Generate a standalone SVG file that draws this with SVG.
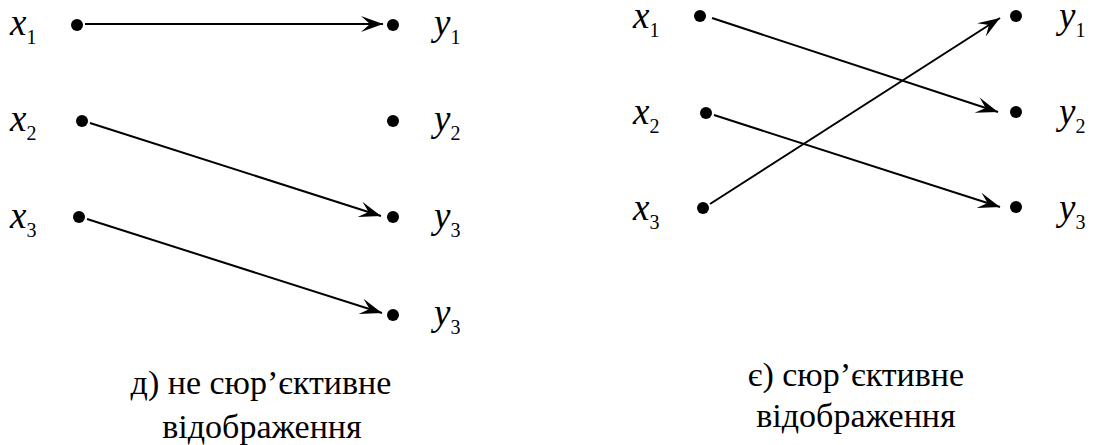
<svg xmlns="http://www.w3.org/2000/svg" width="1096" height="445" viewBox="0 0 1096 445">
<defs>
<marker id="a" viewBox="-24 -10 26 20" refX="0" refY="0" markerWidth="26" markerHeight="20" markerUnits="userSpaceOnUse" orient="auto">
<path d="M0,0 L-22,-8 L-13,0 L-22,8 Z" fill="#000"/>
</marker>
</defs>
<rect width="1096" height="445" fill="#fff"/>
<g id="connectors" stroke="#000" stroke-width="2" fill="none" marker-end="url(#a)">
<line x1="85" y1="24" x2="383" y2="24"/>
<line x1="90" y1="123" x2="381" y2="216"/>
<line x1="87" y1="219" x2="382" y2="313"/>
<line x1="712" y1="18" x2="998" y2="112"/>
<line x1="714" y1="115" x2="1000" y2="207"/>
<line x1="710" y1="204" x2="1000" y2="18"/>
</g>
<g id="nodes" fill="#000" font-family="Liberation Serif" font-style="italic" font-size="37">
<g id="left-x1"><circle cx="77" cy="25" r="6"/><text x="10" y="35" style="font-family:'Liberation Serif'">x<tspan font-style="normal" font-size="20" dy="9">1</tspan></text></g>
<g id="left-x2"><circle cx="82" cy="121" r="6"/><text x="10" y="131" style="font-family:'Liberation Serif'">x<tspan font-style="normal" font-size="20" dy="9">2</tspan></text></g>
<g id="left-x3"><circle cx="79" cy="217" r="6"/><text x="10" y="228" style="font-family:'Liberation Serif'">x<tspan font-style="normal" font-size="20" dy="9">3</tspan></text></g>
<g id="left-y1"><circle cx="393" cy="25" r="6"/><text x="434" y="35" style="font-family:'Liberation Serif'">y<tspan font-style="normal" font-size="20" dy="9">1</tspan></text></g>
<g id="left-y2"><circle cx="393" cy="121" r="6"/><text x="434" y="131" style="font-family:'Liberation Serif'">y<tspan font-style="normal" font-size="20" dy="9">2</tspan></text></g>
<g id="left-y3"><circle cx="393" cy="217" r="6"/><text x="434" y="228" style="font-family:'Liberation Serif'">y<tspan font-style="normal" font-size="20" dy="9">3</tspan></text></g>
<g id="left-y3b"><circle cx="393" cy="315" r="6"/><text x="434" y="325" style="font-family:'Liberation Serif'">y<tspan font-style="normal" font-size="20" dy="9">3</tspan></text></g>
<g id="right-x1"><circle cx="700" cy="16" r="6"/><text x="633" y="28" style="font-family:'Liberation Serif'">x<tspan font-style="normal" font-size="20" dy="9">1</tspan></text></g>
<g id="right-x2"><circle cx="706" cy="113" r="6"/><text x="633" y="124" style="font-family:'Liberation Serif'">x<tspan font-style="normal" font-size="20" dy="9">2</tspan></text></g>
<g id="right-x3"><circle cx="703" cy="208" r="6"/><text x="633" y="220" style="font-family:'Liberation Serif'">x<tspan font-style="normal" font-size="20" dy="9">3</tspan></text></g>
<g id="right-y1"><circle cx="1016" cy="16" r="6"/><text x="1059" y="28" style="font-family:'Liberation Serif'">y<tspan font-style="normal" font-size="20" dy="9">1</tspan></text></g>
<g id="right-y2"><circle cx="1016" cy="112" r="6"/><text x="1059" y="124" style="font-family:'Liberation Serif'">y<tspan font-style="normal" font-size="20" dy="9">2</tspan></text></g>
<g id="right-y3"><circle cx="1016" cy="207" r="6"/><text x="1059" y="220" style="font-family:'Liberation Serif'">y<tspan font-style="normal" font-size="20" dy="9">3</tspan></text></g>
</g>
<g id="captions" fill="#000" font-family="Liberation Serif" font-size="34" text-anchor="middle">
<g id="caption-left"><text x="261" y="394" style="font-family:'Liberation Serif'">д) не сюр’єктивне</text><text x="262" y="438" style="font-family:'Liberation Serif'">відображення</text></g>
<g id="caption-right"><text x="856" y="386" style="font-family:'Liberation Serif'">є) сюр’єктивне</text><text x="856" y="427" style="font-family:'Liberation Serif'">відображення</text></g>
</g>
</svg>
